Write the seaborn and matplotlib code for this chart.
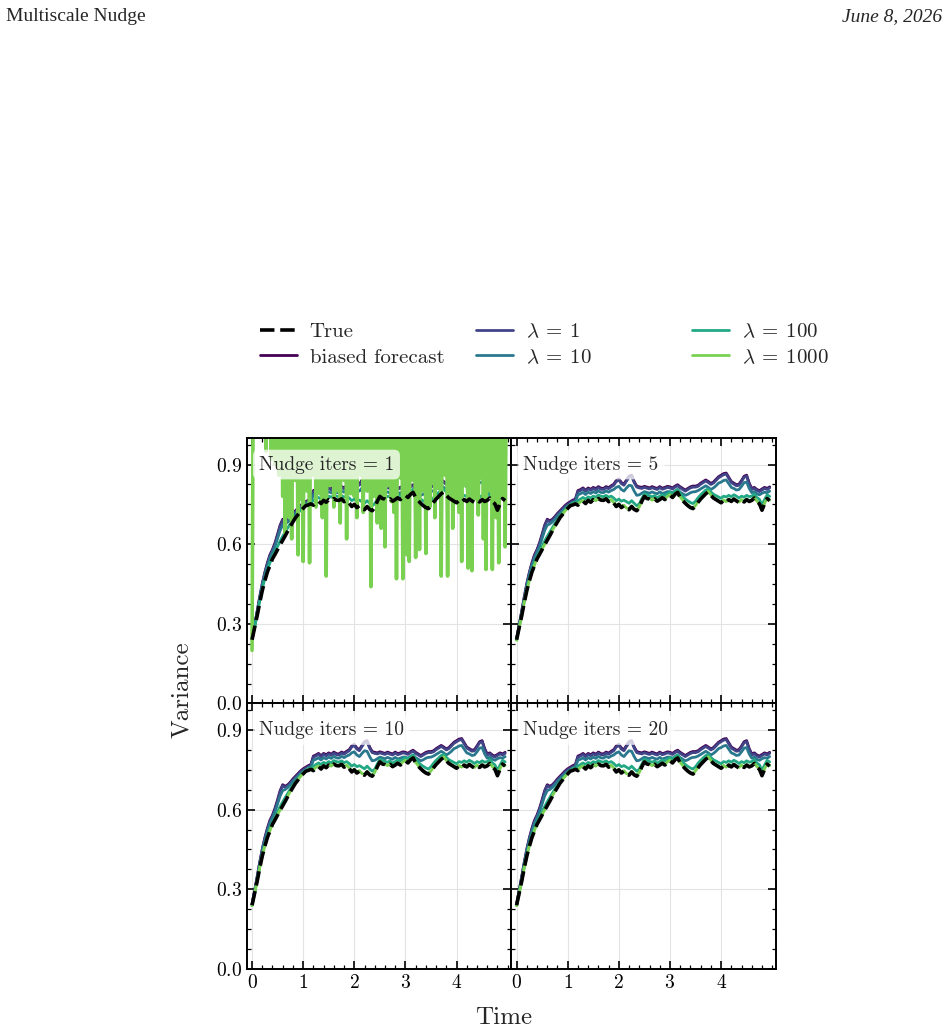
import numpy as np
import matplotlib
matplotlib.use("Agg")
import matplotlib.pyplot as plt
import seaborn as sns
from matplotlib.ticker import MultipleLocator

# time grid of the ensemble-variance curves
t_step = 0.05
t_step_fine = 0.025

true_var = [
    0.240, 0.285, 0.330, 0.380, 0.425, 0.462, 0.495, 0.520, 0.545, 0.562,
    0.580, 0.598, 0.615, 0.632, 0.650, 0.668, 0.684, 0.700, 0.712, 0.724,
    0.735, 0.745, 0.748, 0.752, 0.747, 0.758, 0.762, 0.753, 0.765, 0.758,
    0.768, 0.762, 0.772, 0.766, 0.765, 0.771, 0.760, 0.766, 0.755, 0.742,
    0.750, 0.738, 0.745, 0.733, 0.730, 0.742, 0.731, 0.726, 0.738, 0.762,
    0.780, 0.772, 0.770, 0.764, 0.771, 0.762, 0.768, 0.775, 0.768, 0.778,
    0.784, 0.776, 0.788, 0.795, 0.776, 0.764, 0.754, 0.745, 0.738, 0.734,
    0.744, 0.758, 0.770, 0.780, 0.790, 0.797, 0.784, 0.774, 0.768, 0.762,
    0.756, 0.765, 0.758, 0.768, 0.761, 0.770, 0.763, 0.757, 0.766, 0.759,
    0.768, 0.761, 0.765, 0.774, 0.760, 0.752, 0.728, 0.752, 0.772, 0.764,
]

biased_var = [
    0.244, 0.295, 0.348, 0.402, 0.452, 0.494, 0.530, 0.560, 0.580, 0.606,
    0.638, 0.672, 0.694, 0.688, 0.694, 0.704, 0.716, 0.726, 0.736, 0.746,
    0.754, 0.760, 0.766, 0.770, 0.802, 0.806, 0.812, 0.803, 0.812, 0.807,
    0.814, 0.809, 0.817, 0.811, 0.810, 0.817, 0.813, 0.820, 0.826, 0.840,
    0.846, 0.832, 0.826, 0.842, 0.856, 0.860, 0.836, 0.819, 0.816, 0.814,
    0.818, 0.815, 0.812, 0.817, 0.813, 0.810, 0.817, 0.811, 0.814, 0.818,
    0.816, 0.812, 0.819, 0.824, 0.816, 0.810, 0.804, 0.810, 0.816, 0.819,
    0.819, 0.822, 0.830, 0.836, 0.842, 0.836, 0.829, 0.834, 0.844, 0.854,
    0.860, 0.866, 0.868, 0.852, 0.836, 0.830, 0.824, 0.826, 0.840, 0.856,
    0.860, 0.830, 0.810, 0.814, 0.806, 0.802, 0.808, 0.814, 0.810, 0.816,
]

lam1_var = [
    0.242, 0.292, 0.345, 0.398, 0.448, 0.490, 0.525, 0.555, 0.575, 0.600,
    0.632, 0.668, 0.690, 0.684, 0.690, 0.700, 0.712, 0.722, 0.732, 0.742,
    0.750, 0.756, 0.762, 0.766, 0.798, 0.802, 0.808, 0.799, 0.808, 0.803,
    0.810, 0.805, 0.813, 0.807, 0.806, 0.813, 0.809, 0.816, 0.822, 0.836,
    0.842, 0.828, 0.822, 0.838, 0.852, 0.856, 0.832, 0.815, 0.812, 0.810,
    0.814, 0.811, 0.808, 0.813, 0.809, 0.806, 0.813, 0.807, 0.810, 0.814,
    0.812, 0.808, 0.815, 0.820, 0.812, 0.806, 0.800, 0.806, 0.812, 0.815,
    0.815, 0.818, 0.826, 0.832, 0.838, 0.832, 0.825, 0.830, 0.840, 0.850,
    0.856, 0.862, 0.864, 0.848, 0.832, 0.826, 0.820, 0.822, 0.836, 0.852,
    0.856, 0.826, 0.806, 0.810, 0.802, 0.798, 0.804, 0.810, 0.806, 0.812,
]

lam10_var = [
    0.242, 0.290, 0.342, 0.394, 0.444, 0.484, 0.518, 0.548, 0.570, 0.592,
    0.622, 0.652, 0.672, 0.676, 0.684, 0.694, 0.706, 0.716, 0.726, 0.736,
    0.744, 0.750, 0.756, 0.760, 0.786, 0.790, 0.795, 0.787, 0.796, 0.791,
    0.798, 0.793, 0.801, 0.795, 0.794, 0.801, 0.796, 0.802, 0.806, 0.814,
    0.818, 0.806, 0.800, 0.812, 0.822, 0.820, 0.800, 0.784, 0.786, 0.792,
    0.798, 0.795, 0.792, 0.797, 0.793, 0.790, 0.797, 0.791, 0.794, 0.798,
    0.798, 0.794, 0.800, 0.806, 0.796, 0.790, 0.784, 0.788, 0.794, 0.797,
    0.798, 0.802, 0.808, 0.814, 0.820, 0.814, 0.806, 0.812, 0.820, 0.830,
    0.834, 0.840, 0.842, 0.828, 0.814, 0.810, 0.804, 0.806, 0.818, 0.832,
    0.834, 0.810, 0.794, 0.798, 0.790, 0.786, 0.792, 0.796, 0.794, 0.800,
]

lam100_var = [
    0.240, 0.287, 0.334, 0.385, 0.432, 0.470, 0.504, 0.530, 0.554, 0.572,
    0.592, 0.612, 0.630, 0.646, 0.662, 0.678, 0.692, 0.706, 0.718, 0.729,
    0.740, 0.748, 0.756, 0.756, 0.764, 0.770, 0.776, 0.770, 0.778, 0.774,
    0.781, 0.777, 0.785, 0.781, 0.779, 0.784, 0.777, 0.781, 0.774, 0.764,
    0.770, 0.762, 0.766, 0.760, 0.754, 0.764, 0.754, 0.745, 0.752, 0.772,
    0.790, 0.786, 0.782, 0.779, 0.783, 0.775, 0.781, 0.787, 0.783, 0.790,
    0.796, 0.791, 0.800, 0.806, 0.790, 0.779, 0.770, 0.763, 0.757, 0.753,
    0.762, 0.775, 0.786, 0.795, 0.804, 0.808, 0.797, 0.788, 0.783, 0.778,
    0.773, 0.781, 0.778, 0.784, 0.779, 0.786, 0.781, 0.774, 0.781, 0.777,
    0.784, 0.779, 0.781, 0.789, 0.776, 0.769, 0.748, 0.768, 0.786, 0.780,
]

lam1000_var = [
    0.238, 0.284, 0.330, 0.381, 0.426, 0.463, 0.496, 0.521, 0.546, 0.563,
    0.582, 0.599, 0.617, 0.633, 0.652, 0.669, 0.686, 0.701, 0.714, 0.725,
    0.737, 0.746, 0.750, 0.753, 0.750, 0.760, 0.764, 0.756, 0.767, 0.761,
    0.770, 0.764, 0.774, 0.768, 0.767, 0.773, 0.762, 0.768, 0.757, 0.745,
    0.752, 0.741, 0.747, 0.736, 0.733, 0.744, 0.734, 0.729, 0.740, 0.764,
    0.782, 0.774, 0.772, 0.766, 0.773, 0.764, 0.770, 0.777, 0.770, 0.780,
    0.786, 0.778, 0.790, 0.797, 0.778, 0.766, 0.756, 0.747, 0.740, 0.736,
    0.746, 0.760, 0.772, 0.782, 0.792, 0.799, 0.786, 0.776, 0.770, 0.764,
    0.758, 0.767, 0.760, 0.770, 0.763, 0.772, 0.765, 0.759, 0.768, 0.761,
    0.770, 0.763, 0.767, 0.776, 0.762, 0.754, 0.730, 0.754, 0.774, 0.766,
]

# lambda = 1000 with a single nudge iteration is unstable (fine time grid)
lam1000_iter1_var = [
    0.20, 1.30, 1.45, 1.50, 1.40, 1.50, 1.45, 1.50, 1.40, 1.50,
    1.30, 0.95, 1.30, 1.30, 1.30, 0.92, 1.30, 1.30, 0.90, 1.30,
    1.30, 0.86, 1.30, 1.30, 0.78, 1.30, 0.64, 1.30, 1.30, 0.70,
    1.30, 0.62, 1.30, 1.30, 0.84, 1.30, 0.56, 1.30, 0.77, 1.30,
    0.535, 1.30, 1.30, 0.80, 1.30, 0.53, 1.30, 1.30, 0.86, 1.30,
    0.74, 1.30, 1.30, 0.79, 1.30, 0.70, 1.30, 1.30, 0.48, 1.30,
    1.30, 0.82, 1.30, 1.30, 0.74, 1.30, 0.80, 1.30, 1.30, 0.68,
    1.30, 1.30, 0.84, 1.30, 0.62, 1.30, 1.30, 0.79, 1.30, 1.30,
    0.78, 1.30, 0.70, 1.30, 1.30, 0.86, 1.30, 0.72, 1.30, 1.30,
    0.80, 1.30, 1.30, 0.44, 1.30, 0.78, 1.30, 1.30, 0.68, 1.30,
    1.30, 0.66, 1.30, 1.30, 0.59, 1.30, 0.82, 1.30, 1.30, 0.76,
    1.30, 0.72, 1.30, 0.47, 1.30, 1.30, 0.85, 1.30, 0.47, 1.30,
    1.30, 0.56, 1.30, 0.535, 1.30, 1.30, 0.84, 1.30, 0.55, 1.30,
    1.30, 0.58, 1.30, 0.80, 1.30, 1.30, 0.565, 1.30, 1.30, 0.74,
    1.30, 0.83, 1.30, 0.70, 1.30, 1.30, 0.81, 1.30, 0.48, 1.30,
    1.30, 0.86, 1.30, 0.48, 1.30, 0.77, 1.30, 0.66, 1.30, 1.30,
    0.76, 1.30, 0.72, 1.30, 0.535, 1.30, 1.30, 0.82, 1.30, 0.51,
    1.30, 1.30, 0.50, 1.30, 0.77, 1.30, 1.30, 0.71, 1.30, 0.85,
    1.30, 0.62, 1.30, 0.505, 1.30, 1.30, 0.80, 1.30, 0.505, 1.30,
    1.30, 0.70, 1.30, 0.53, 1.30, 1.30, 0.78, 1.30, 0.59, 1.30,
]

nudge_iters = [1, 5, 10, 20]
lambda_labels = [r"$\lambda\:=\:1$", r"$\lambda\:=\:10$",
                 r"$\lambda\:=\:100$", r"$\lambda\:=\:1000$"]
y_ticks = [0.0, 0.3, 0.6, 0.9]
x_ticks = [0, 1, 2, 3, 4]

time = np.arange(len(true_var)) * t_step
time_fine = np.arange(len(lam1000_iter1_var)) * t_step_fine

sns.set_style("ticks")
plt.rcParams.update({
    "font.family": ["cmr10"],
    "mathtext.fontset": "cm",
    "axes.formatter.use_mathtext": True,
    "axes.linewidth": 1.4,
    "axes.edgecolor": "black",
    "xtick.direction": "in", "ytick.direction": "in",
    "xtick.top": True, "ytick.right": True,
    "xtick.major.size": 6, "ytick.major.size": 6,
    "xtick.minor.size": 3, "ytick.minor.size": 3,
    "xtick.major.width": 1.2, "ytick.major.width": 1.2,
    "xtick.minor.width": 0.9, "ytick.minor.width": 0.9,
    "xtick.color": "black", "ytick.color": "black",
    "xtick.labelsize": 14, "ytick.labelsize": 14,
})

cmap = plt.get_cmap("viridis")
colors = [cmap(v) for v in [0.0, 0.2, 0.4, 0.6, 0.8]]

fig, axes = plt.subplots(2, 2, figsize=(9.48, 10.34), dpi=100, sharex=True, sharey=True)
fig.subplots_adjust(left=0.2605, right=0.8186, bottom=0.0629, top=0.5764,
                    wspace=0, hspace=0)

lam_series = [lam1_var, lam10_var, lam100_var, lam1000_var]

for ax, n in zip(axes.flat, nudge_iters):
    sns.lineplot(x=time, y=true_var, ax=ax, color="black", lw=2.6,
                 linestyle=(0, (4, 1.6)), zorder=10, label="True")
    sns.lineplot(x=time, y=biased_var, ax=ax, color=colors[0], lw=2.0,
                 label="biased forecast")
    for i, (vals, lab) in enumerate(zip(lam_series, lambda_labels)):
        if n == 1 and i == 3:
            sns.lineplot(x=time_fine, y=lam1000_iter1_var, ax=ax,
                         color=colors[4], lw=2.6, label=lab)
        else:
            sns.lineplot(x=time, y=vals, ax=ax, color=colors[i + 1], lw=2.0, label=lab)
    ax.get_legend().remove()
    ax.margins(x=0.02)
    ax.set_ylim(0, 1.0)
    ax.set_yticks(y_ticks)
    ax.set_xticks(x_ticks)
    ax.yaxis.set_minor_locator(MultipleLocator(0.075))
    ax.xaxis.set_minor_locator(MultipleLocator(0.2))
    ax.grid(True, which="major", color="#e3e3e3", lw=0.8)
    ax.set_axisbelow(True)
    ax.set_xlabel("")
    ax.set_ylabel("")
    ax.text(0.045, 0.9, f"Nudge iters = {n}", transform=ax.transAxes,
            fontsize=14, ha="left", va="center", zorder=20,
            bbox=dict(boxstyle="round,pad=0.3", fc="white", ec="none", alpha=0.75))

# legend handles from a panel where every line has the regular width
handles, labels = axes[0, 1].get_legend_handles_labels()
legend_x = [0.2542, 0.4821, 0.7099]
for k, x in enumerate(legend_x):
    fig.legend(handles[2 * k:2 * k + 2], labels[2 * k:2 * k + 2],
               loc="center left", bbox_to_anchor=(x, 0.6668), frameon=False,
               fontsize=15, handlelength=1.8, handletextpad=0.6, labelspacing=0.35)

fig.text(0.531, 0.0155, "Time", fontsize=18, ha="center", va="center")
fig.text(0.192, 0.3327, "Variance", fontsize=18, ha="center", va="center",
         rotation=90)

fig.text(0.006, 0.992, "Multiscale Nudge", family="Liberation Serif",
         fontsize=14, ha="left", va="top")
fig.text(0.994, 0.992, "June 8, 2026", family="Liberation Serif",
         style="italic", fontsize=14, ha="right", va="top")

fig.savefig("out.png", dpi=100)
